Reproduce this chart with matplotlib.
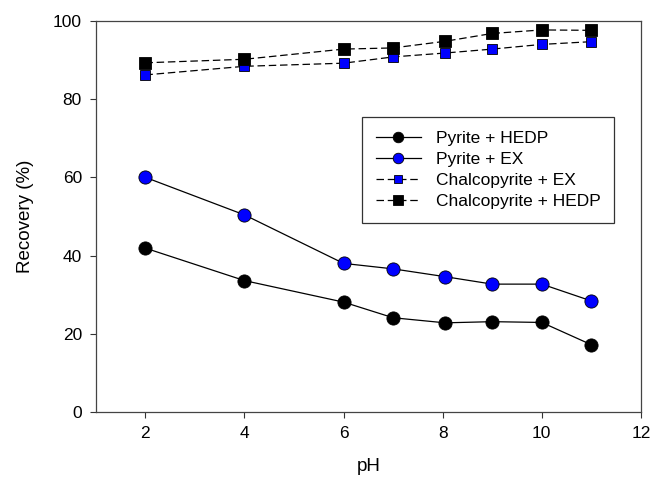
import matplotlib
matplotlib.use("Agg")
import matplotlib.pyplot as plt

plt.rcParams['font.family'] = ['Liberation Sans', 'DejaVu Sans']

ph = [2, 4, 6, 7, 8.05, 9, 10, 11]
pyrite_hedp = [41.9, 33.6, 28.1, 24.1, 22.8, 23.1, 22.9, 17.2]
pyrite_ex = [60.0, 50.4, 38.0, 36.6, 34.6, 32.7, 32.7, 28.4]
chalco_ex = [86.2, 88.4, 89.2, 90.8, 91.8, 92.8, 94.0, 94.7]
chalco_hedp = [89.3, 90.2, 92.8, 93.1, 94.8, 96.8, 97.7, 97.6]

fig = plt.figure(figsize=(6.52, 4.87), dpi=100)
ax = fig.add_axes([0.147, 0.154, 0.836, 0.803])

ax.plot(ph, pyrite_hedp, '-', color='black', lw=0.9, marker='o', ms=9.5,
        mfc='black', mec='black', mew=0.6, label='Pyrite + HEDP')
ax.plot(ph, pyrite_ex, '-', color='black', lw=0.9, marker='o', ms=9.5,
        mfc='#0000ff', mec='black', mew=0.6, label='Pyrite + EX')
ax.plot(ph, chalco_ex, color='black', lw=0.9, ls=(0, (6, 3)), marker='s', ms=7.5,
        mfc='#0000ff', mec='black', mew=0.6, label='Chalcopyrite + EX')
ax.plot(ph, chalco_hedp, color='black', lw=0.9, ls=(0, (6, 3)), marker='s', ms=9,
        mfc='black', mec='black', mew=0.6, label='Chalcopyrite + HEDP')

ax.set_xlim(1, 12)
ax.set_ylim(0, 100)
ax.set_xticks([2, 4, 6, 8, 10, 12])
ax.set_yticks([0, 20, 40, 60, 80, 100])
ax.tick_params(direction='out', length=4, width=0.8, labelsize=12.5, color='#333333', pad=6)
ax.tick_params(axis='x', top=False)
ax.tick_params(axis='y', right=False)
for s in ax.spines.values():
    s.set_color('#444444')
    s.set_linewidth(0.9)

ax.set_xlabel('pH', fontsize=13.5, labelpad=12)
ax.set_ylabel('Recovery (%)', fontsize=13.5, labelpad=14)

leg = ax.legend(loc='upper left', bbox_to_anchor=(0.488, 0.754), borderaxespad=0,
                fontsize=12.5, frameon=True, fancybox=False, edgecolor='black',
                borderpad=0.8, handlelength=2.6, labelspacing=0.33,
                handletextpad=0.85, markerscale=0.8)
leg.get_frame().set_linewidth(0.9)

fig.savefig('out.png', dpi=100)
